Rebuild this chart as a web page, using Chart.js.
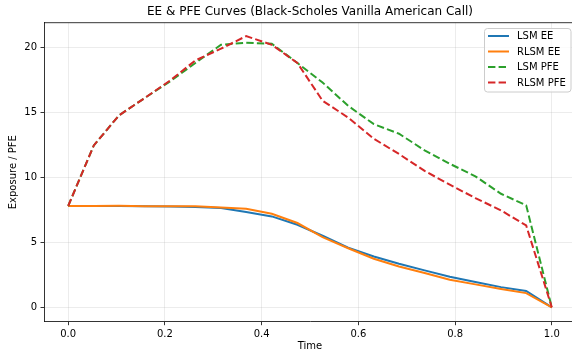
<!DOCTYPE html>
<html>
<head>
<meta charset="utf-8">
<script src="https://cdn.jsdelivr.net/npm/chart.js@4/dist/chart.umd.min.js"></script>
<style>
  html, body { margin: 0; padding: 0; background: #fff; overflow: hidden; }
  #wrap { position: relative; width: 578px; height: 356px; }
</style>
</head>
<body>
<div id="wrap"><canvas id="exposureChart"></canvas></div>
<script>
// time grid (20 exercise dates on [0, 1])
const timeGrid = [0.000, 0.053, 0.105, 0.158, 0.211, 0.263, 0.316, 0.368, 0.421, 0.474,
                  0.526, 0.579, 0.632, 0.684, 0.737, 0.789, 0.842, 0.895, 0.947, 1.000];

// expected exposure
const lsmEE  = [7.80, 7.80, 7.80, 7.78, 7.76, 7.72, 7.64, 7.33, 7.00, 6.36,
                5.51, 4.59, 3.92, 3.36, 2.85, 2.36, 1.95, 1.56, 1.26, 0.00];
const rlsmEE = [7.80, 7.80, 7.81, 7.79, 7.78, 7.78, 7.69, 7.59, 7.20, 6.49,
                5.41, 4.55, 3.74, 3.15, 2.64, 2.13, 1.77, 1.41, 1.10, 0.00];

// potential future exposure
const lsmPFE  = [7.80, 12.46, 14.77, 16.10, 17.40, 18.80, 20.20, 20.36, 20.28, 18.80,
                 17.30, 15.50, 14.10, 13.36, 12.08, 11.05, 10.08, 8.74, 7.85, 0.00];
const rlsmPFE = [7.80, 12.46, 14.77, 16.10, 17.46, 19.00, 19.90, 20.87, 20.20, 18.80,
                 15.90, 14.60, 12.97, 11.80, 10.50, 9.44, 8.41, 7.46, 6.30, 0.00];

const xTicks = [0, 0.2, 0.4, 0.6, 0.8, 1.0];
const yTicks = [0, 5, 10, 15, 20];

const FONT = 'DejaVu Sans';
const series = [
    { label: 'LSM EE',    values: lsmEE,   color: '#1f77b4', dash: [] },
    { label: 'RLSM EE',   values: rlsmEE,  color: '#ff7f0e', dash: [] },
    { label: 'LSM PFE',   values: lsmPFE,  color: '#2ca02c', dash: [7.4, 3.2] },
    { label: 'RLSM PFE',  values: rlsmPFE, color: '#d62728', dash: [7.4, 3.2] }
];

// top spine + legend box inside the axes
const frameAndLegend = {
    id: 'frameAndLegend',
    afterDatasetsDraw(chart) {
        const { ctx, chartArea: a } = chart;
        ctx.save();
        ctx.strokeStyle = '#000';
        ctx.lineWidth = 0.8;
        ctx.beginPath();
        ctx.moveTo(a.left, a.top);
        ctx.lineTo(a.right, a.top);
        ctx.lineTo(a.right, a.bottom);
        ctx.stroke();

        // legend
        const bx = 484.5, by = 28.5, bw = 86.5, bh = 63.5;
        ctx.fillStyle = 'rgba(255,255,255,0.8)';
        ctx.strokeStyle = '#cccccc';
        ctx.lineWidth = 1;
        ctx.beginPath();
        ctx.roundRect(bx, by, bw, bh, 3);
        ctx.fill();
        ctx.stroke();

        ctx.font = `10px "${FONT}"`;
        ctx.textBaseline = 'middle';
        ctx.textAlign = 'left';
        series.forEach((s, i) => {
            const y = 36 + i * 15.5;
            ctx.strokeStyle = s.color;
            ctx.lineWidth = 2;
            ctx.setLineDash(s.dash);
            ctx.beginPath();
            ctx.moveTo(488, y);
            ctx.lineTo(509, y);
            ctx.stroke();
            ctx.setLineDash([]);
            ctx.fillStyle = '#000';
            ctx.fillText(s.label, 517, y + 0.5);
        });
        ctx.restore();
    }
};

const gridStyle = {
    color: 'rgba(176,176,176,0.3)',
    lineWidth: 0.8,
    tickColor: '#000',
    tickWidth: 0.8,
    tickLength: 3.5
};

new Chart(document.getElementById('exposureChart'), {
    type: 'line',
    data: {
        datasets: series.map((s, i) => ({
            label: s.label,
            data: timeGrid.map((t, j) => ({ x: t, y: s.values[j] })),
            borderColor: s.color,
            backgroundColor: s.color,
            borderDash: s.dash,
            borderWidth: 2,
            pointRadius: 0,
            tension: 0,
            fill: false,
            order: series.length - i
        }))
    },
    options: {
        responsive: true,
        maintainAspectRatio: false,
        animation: false,
        events: [],
        layout: { padding: { left: 0, right: 2, top: 0, bottom: 0 } },
        plugins: {
            legend: { display: false },
            tooltip: { enabled: false },
            title: {
                display: true,
                fullSize: false,
                text: 'EE & PFE Curves (Black-Scholes Vanilla American Call)',
                color: '#000',
                font: { family: FONT, size: 12, weight: 'normal' },
                padding: { top: 5, bottom: 3.3 }
            }
        },
        scales: {
            x: {
                type: 'linear',
                min: -0.05,
                max: 1.05,
                afterBuildTicks: s => { s.ticks = xTicks.map(v => ({ value: v })); },
                afterFit: s => { s.height = 34.3; },
                ticks: {
                    color: '#000',
                    font: { family: FONT, size: 10 },
                    padding: 3.5,
                    maxRotation: 0,
                    callback: v => v.toFixed(1)
                },
                grid: gridStyle,
                border: { color: '#000', width: 0.8 },
                title: {
                    display: true,
                    text: 'Time',
                    color: '#000',
                    font: { family: FONT, size: 10 },
                    padding: { top: 0, bottom: 4 }
                }
            },
            y: {
                min: -1.1,
                max: 21.9,
                afterBuildTicks: s => { s.ticks = yTicks.map(v => ({ value: v })); },
                afterFit: s => { s.width = 44; },
                ticks: {
                    color: '#000',
                    font: { family: FONT, size: 10 },
                    padding: 3.5,
                    callback: v => String(v)
                },
                grid: gridStyle,
                border: { color: '#000', width: 0.8 },
                title: {
                    display: true,
                    text: 'Exposure / PFE',
                    color: '#000',
                    font: { family: FONT, size: 10 },
                    padding: { top: 7, bottom: 0 }
                }
            }
        }
    },
    plugins: [frameAndLegend]
});
</script>
</body>
</html>
